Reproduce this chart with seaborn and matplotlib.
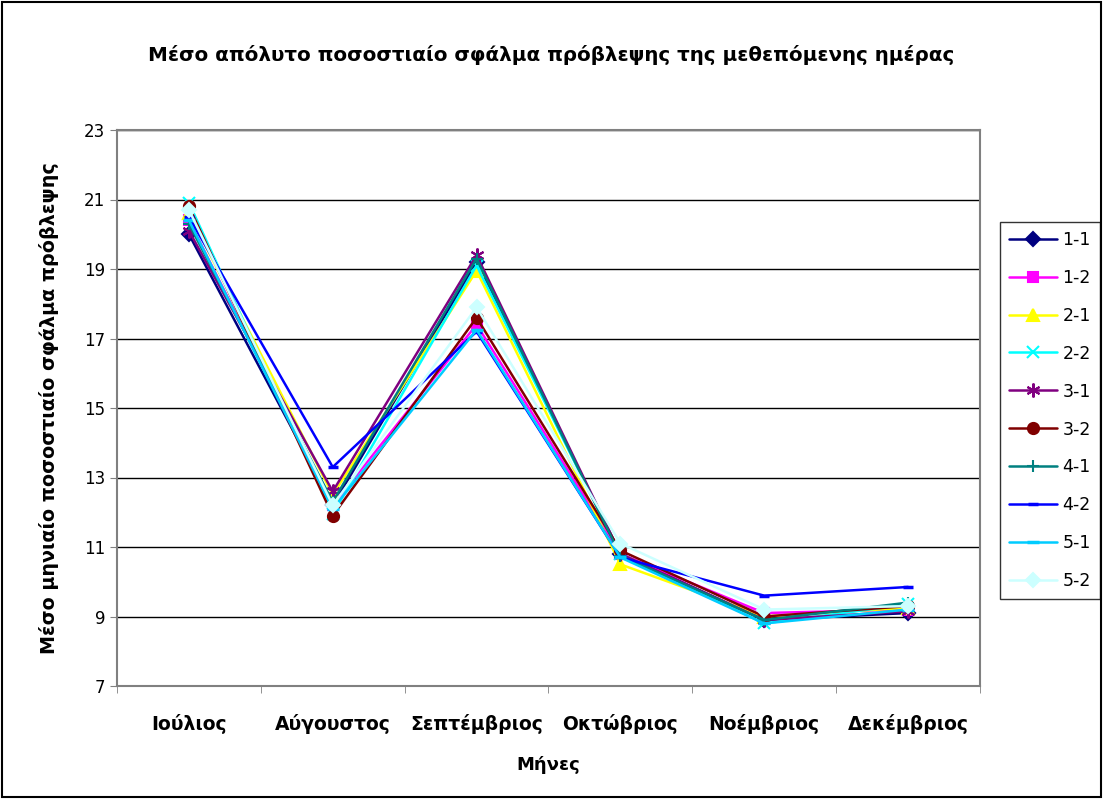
import matplotlib
matplotlib.use("Agg")
import matplotlib.pyplot as plt
import seaborn as sns
import pandas as pd

sns.set_style("white")
plt.rcParams['font.family'] = ['DejaVu Sans']
plt.rcParams['text.color'] = 'black'
plt.rcParams['axes.labelcolor'] = 'black'
plt.rcParams['xtick.color'] = 'black'
plt.rcParams['ytick.color'] = 'black'

months = ['Ιούλιος', 'Αύγουστος', 'Σεπτέμβριος', 'Οκτώβριος', 'Νοέμβριος', 'Δεκέμβριος']

s_1_1 = [20.0, 12.2, 19.2, 10.8, 8.9, 9.1]
s_1_2 = [20.4, 12.2, 17.4, 10.8, 9.1, 9.2]
s_2_1 = [20.6, 12.5, 18.95, 10.5, 9.0, 9.25]
s_2_2 = [20.9, 11.95, 19.1, 10.8, 8.8, 9.35]
s_3_1 = [20.1, 12.6, 19.4, 10.8, 8.9, 9.15]
s_3_2 = [20.8, 11.9, 17.6, 10.9, 9.0, 9.3]
s_4_1 = [20.3, 12.3, 19.3, 10.75, 8.9, 9.4]
s_4_2 = [20.5, 13.3, 17.2, 10.7, 9.6, 9.85]
s_5_1 = [20.4, 12.1, 17.25, 10.7, 8.8, 9.2]
s_5_2 = [20.7, 12.2, 17.9, 11.1, 9.2, 9.3]

names = ['1-1', '1-2', '2-1', '2-2', '3-1', '3-2', '4-1', '4-2', '5-1', '5-2']
series = [s_1_1, s_1_2, s_2_1, s_2_2, s_3_1, s_3_2, s_4_1, s_4_2, s_5_1, s_5_2]

colors = ['#000080', '#FF00FF', '#FFFF00', '#00FFFF', '#800080',
          '#800000', '#008080', '#0000FF', '#00CCFF', '#CCFFFF']
markers = ['D', 's', '^', 'x', (6, 2, 0), 'o', '+', '_', '_', 'D']
msizes = [7, 7, 8, 9, 10, 8, 9, 7, 9, 7]

rows = []
for n, vals in zip(names, series):
    for i, v in enumerate(vals):
        rows.append({'month': i, 'value': v, 'series': n})
df = pd.DataFrame(rows)

fig = plt.figure(figsize=(11.03, 7.99), dpi=100)
ax = fig.add_axes([117 / 1103, 1 - 686 / 799, (980 - 117) / 1103, (686 - 130) / 799])

for n, c, m, ms in zip(names, colors, markers, msizes):
    sub = df[df['series'] == n]
    mew = 2.5 if m == '_' else 1.5
    sns.lineplot(data=sub, x='month', y='value', ax=ax, color=c, marker=m,
                 markersize=ms, markeredgecolor=c, markerfacecolor=c,
                 markeredgewidth=mew, linewidth=1.8, label=n)

ax.set_xlim(-0.5, 5.5)
ax.set_ylim(7, 23)
ax.set_yticks(range(7, 24, 2))
ax.set_xticks(range(6))
ax.set_xticklabels(months, fontsize=13.5, fontweight='bold')
ax.tick_params(axis='y', labelsize=12, direction='out', length=5, color='#808080', left=True)
ax.tick_params(axis='x', direction='out', length=0, pad=20)
ax.set_xticks([x + 0.5 for x in range(-1, 6)], minor=True)
ax.tick_params(axis='x', which='minor', length=5, color='#808080', bottom=True)
ax.yaxis.grid(True, color='black', linewidth=1)
ax.set_axisbelow(True)
for sp in ax.spines.values():
    sp.set_color('#808080')
    sp.set_linewidth(1.5)

ax.set_xlabel('Μήνες', fontsize=13, fontweight='bold', labelpad=16)
ax.set_ylabel('Μέσο μηνιαίο ποσοστιαίο σφάλμα πρόβλεψης', fontsize=13.8, fontweight='bold', labelpad=18)
fig.text(0.5, 1 - 55 / 799, 'Μέσο απόλυτο ποσοστιαίο σφάλμα πρόβλεψης της μεθεπόμενης ημέρας',
         ha='center', va='center', fontsize=14.3, fontweight='bold')

leg = ax.legend(loc='upper left', bbox_to_anchor=(1000 / 1103, 1 - 222 / 799),
                bbox_transform=fig.transFigure, frameon=True, fancybox=False,
                fontsize=12.5, labelspacing=1.15, handlelength=2.8, handletextpad=0.3,
                borderpad=0.5, borderaxespad=0)
leg.get_frame().set_edgecolor('black')
leg.get_frame().set_linewidth(1)

fig.patches.append(plt.Rectangle((0.002, 0.002), 0.996, 0.996, transform=fig.transFigure,
                                 fill=False, edgecolor='black', linewidth=1.5))

fig.savefig('out.png', dpi=100)
